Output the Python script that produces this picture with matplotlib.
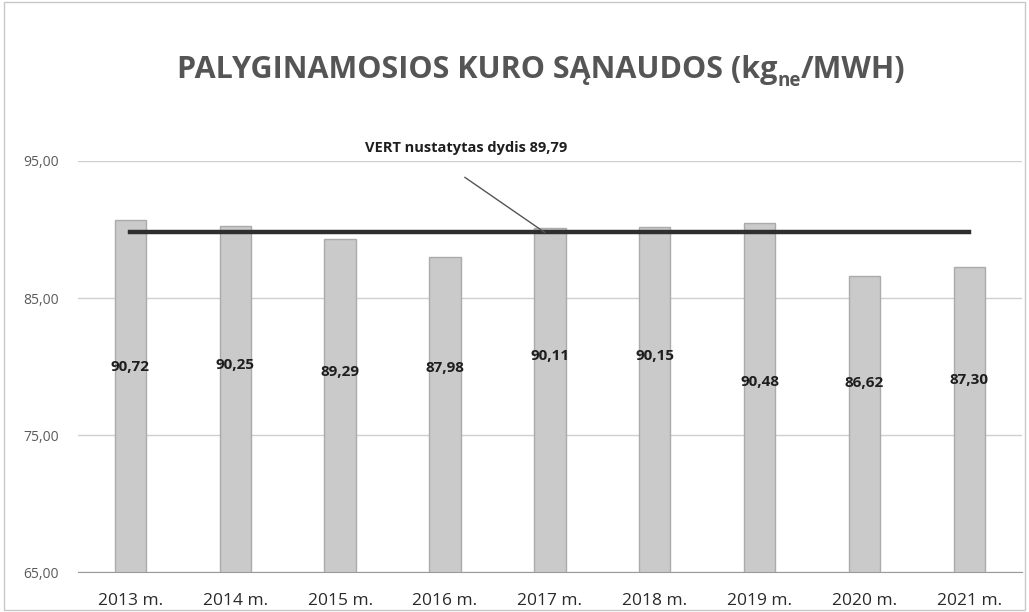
import numpy as np
import matplotlib.pyplot as plt

plt.rcParams['font.family'] = ['Open Sans', 'DejaVu Sans']

years = ['2013 m.', '2014 m.', '2015 m.', '2016 m.', '2017 m.',
         '2018 m.', '2019 m.', '2020 m.', '2021 m.']
values = [90.72, 90.25, 89.29, 87.98, 90.11, 90.15, 90.48, 86.62, 87.30]
vert_level = 89.79
yticks = [65, 75, 85, 95]
# label heights as they sit in the original
label_y = [80.0, 80.1, 79.6, 79.9, 80.8, 80.8, 78.9, 78.8, 79.0]

fig = plt.figure(figsize=(10.29, 6.12), dpi=100)
ax = fig.add_axes([0.0758, 0.065, 0.9172, 0.672])

x = np.arange(len(years))
ax.bar(x, values, width=0.3, color='#cacaca', edgecolor='#ababab',
       linewidth=1, zorder=2)
ax.plot(x, [vert_level] * len(x), color='#2e2e2e', lw=3.2, zorder=3)

for xi, v, ly in zip(x, values, label_y):
    ax.text(xi, ly, f'{v:.2f}'.replace('.', ','), ha='center', va='center',
            fontsize=11, fontweight='bold', color='#1e1e1e', zorder=4)

ax.set_ylim(65, 95)
ax.set_xlim(-0.5, len(x) - 0.5)
ax.set_yticks(yticks)
ax.set_yticklabels([f'{t:.2f}'.replace('.', ',') for t in yticks])
ax.set_xticks(x)
ax.set_xticklabels(years)
ax.tick_params(axis='y', length=0, labelsize=10, labelcolor='#5a5a5a', pad=14)
ax.tick_params(axis='x', length=0, labelsize=12.5, labelcolor='#2a2a2a', pad=15)
ax.grid(axis='y', color='#cfcfcf', lw=1, zorder=0)
for s in ['top', 'right', 'left']:
    ax.spines[s].set_visible(False)
ax.spines['bottom'].set_color('#9a9a9a')

# VERT annotation
ax.text(3.2, 95.95, 'VERT nustatytas dydis 89,79', ha='center', va='center',
        fontsize=10.5, fontweight='bold', color='#1e1e1e', clip_on=False)
ax.plot([3.19, 3.95], [93.8, vert_level], color='#555555', lw=1, zorder=3)

# title with subscript, built from pieces
fig.canvas.draw()
r = fig.canvas.get_renderer()
tkw = dict(fontsize=22, color='#555555', fontweight='bold', va='baseline')
t1 = fig.text(0.0, 0.872, 'PALYGINAMOSIOS KURO SĄNAUDOS (kg', **tkw)
t2 = fig.text(0.0, 0.859, 'ne', fontsize=13.5, color='#555555', fontweight='bold', va='baseline')
t3 = fig.text(0.0, 0.872, '/MWH)', **tkw)
w1 = t1.get_window_extent(r).width
w2 = t2.get_window_extent(r).width
w3 = t3.get_window_extent(r).width
W = fig.bbox.width
x0 = 541 / 1029 - (w1 + w2 + w3) / 2 / W
t1.set_x(x0)
t2.set_x(x0 + w1 / W)
t3.set_x(x0 + (w1 + w2) / W)

fig.patches.append(plt.Rectangle((0.004, 0.003), 0.992, 0.994, transform=fig.transFigure,
                                 fill=False, edgecolor='#c8c8c8', lw=1))

plt.savefig('out.png', dpi=100)
